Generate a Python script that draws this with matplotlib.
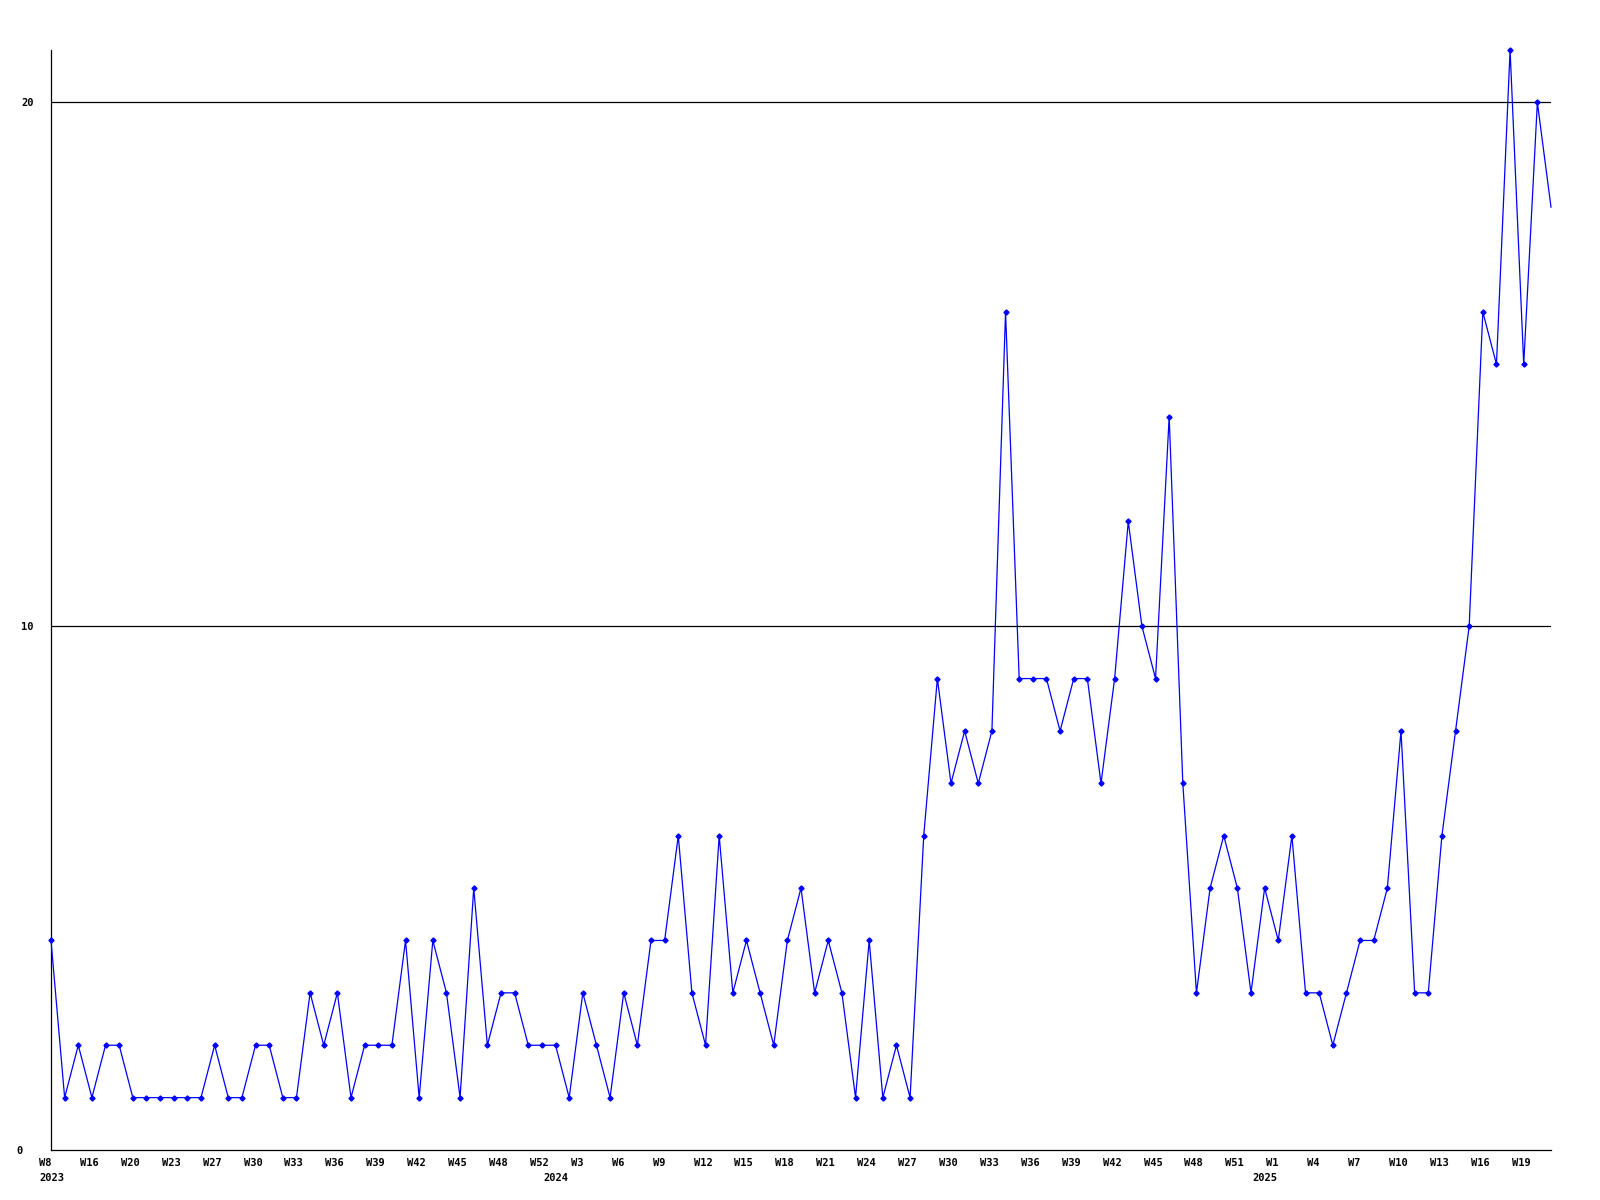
import matplotlib
matplotlib.use("Agg")
import matplotlib.pyplot as plt
from matplotlib.transforms import ScaledTranslation

# weekly counts, one point per week shown on the x axis
counts = [4, 1, 2, 1, 2, 2, 1, 1, 1, 1, 1, 1, 2, 1, 1, 2, 2, 1, 1, 3,
          2, 3, 1, 2, 2, 2, 4, 1, 4, 3, 1, 5, 2, 3, 3, 2, 2, 2, 1, 3,
          2, 1, 3, 2, 4, 4, 6, 3, 2, 6, 3, 4, 3, 2, 4, 5, 3, 4, 3, 1,
          4, 1, 2, 1, 6, 9, 7, 8, 7, 8, 16, 9, 9, 9, 8, 9, 9, 7, 9, 12,
          10, 9, 14, 7, 3, 5, 6, 5, 3, 5, 4, 6, 3, 3, 2, 3, 4, 4, 5, 8,
          3, 3, 6, 8, 10, 16, 15, 21, 15, 20, 18]

# a week label on every third point
week_labels = ["W8", "W16", "W20", "W23", "W27", "W30", "W33", "W36", "W39",
               "W42", "W45", "W48", "W52", "W3", "W6", "W9", "W12", "W15",
               "W18", "W21", "W24", "W27", "W30", "W33", "W36", "W39", "W42",
               "W45", "W48", "W51", "W1", "W4", "W7", "W10", "W13", "W16", "W19"]
week_step = 3

years = ["2023", "2024", "2025"]
year_pos = [0, 37, 89]

y_ticks = [0, 10, 20]

FONT = dict(family="DejaVu Sans Mono", fontweight="bold", fontsize=7.5)

fig = plt.figure(figsize=(16, 12), dpi=100)
ax = fig.add_axes([51 / 1600, 50 / 1200, 1500 / 1600, 1100 / 1200])

x = list(range(len(counts)))
ax.plot(x, counts, color="#0000ff", lw=0.9, marker="D", ms=2.6,
        markevery=slice(0, len(counts) - 1), clip_on=False, zorder=3)

for v in y_ticks[1:]:
    ax.axhline(v, color="black", lw=0.9, zorder=1)

ax.set_xlim(0, len(counts) - 1)
ax.set_ylim(0, 21)

for s in ["top", "right"]:
    ax.spines[s].set_visible(False)
for s in ["left", "bottom"]:
    ax.spines[s].set_linewidth(0.9)
    ax.spines[s].set_color("black")

ax.set_yticks(y_ticks)
ax.set_yticklabels([str(v) for v in y_ticks], **FONT)
ax.tick_params(axis="y", length=0, pad=12.5)
# the zero label sits a little further left in the original
zero_lbl = ax.get_yticklabels()[0]
zero_lbl.set_transform(zero_lbl.get_transform() + ScaledTranslation(-0.11, 0, fig.dpi_scale_trans))

ax.set_xticks([])
shift = ScaledTranslation(-0.12, -0.16, fig.dpi_scale_trans)
trans = ax.get_xaxis_transform() + shift
for i, lab in enumerate(week_labels):
    ax.text(i * week_step, 0, lab, transform=trans, ha="left", va="baseline",
            clip_on=False, **FONT)

trans_y = ax.get_xaxis_transform() + ScaledTranslation(-0.12, -0.31, fig.dpi_scale_trans)
for pos, yr in zip(year_pos, years):
    ax.text(pos, 0, yr, transform=trans_y, ha="left", va="baseline",
            clip_on=False, **FONT)

fig.savefig("out.png", dpi=100)
